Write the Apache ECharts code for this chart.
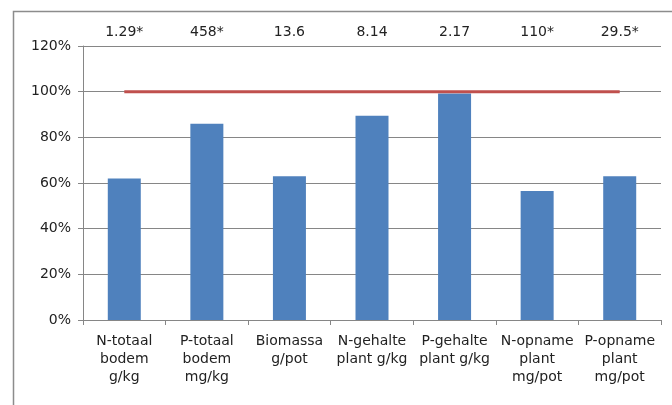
<!DOCTYPE html>
<html><head><meta charset="utf-8">
<script src="https://cdn.jsdelivr.net/npm/echarts@6/dist/echarts.min.js"></script>
<style>html,body{margin:0;padding:0;background:#fff}#c{width:672px;height:405px}</style>
</head><body><div id="c"></div>
<script>
var categories = ["N-totaal\nbodem\ng/kg","P-totaal\nbodem\nmg/kg","Biomassa\ng/pot","N-gehalte\nplant g/kg","P-gehalte\nplant g/kg","N-opname\nplant\nmg/pot","P-opname\nplant\nmg/pot"];
var topLabels = ["1.29*","458*","13.6","8.14","2.17","110*","29.5*"];
var barValues = [62, 86, 63, 89.5, 99.2, 56.5, 63];
var refValues = [100, 100, 100, 100, 100, 100, 100];
var yTicks = [0, 20, 40, 60, 80, 100, 120];

var chart = echarts.init(document.getElementById('c'));
var font = 'DejaVu Sans, Verdana, sans-serif';
chart.setOption({
  animation: false,
  graphic: [{type:'rect', shape:{x:13.5, y:11.5, width:700, height:500}, style:{fill:'none', stroke:'#8c8c8c', lineWidth:1.5}, silent:true}],
  grid: {left:83, right:11, top:46, bottom:85},
  xAxis: [{
    type:'category', data:categories, position:'bottom',
    axisLine:{lineStyle:{color:'#868686'}},
    axisTick:{show:true, length:5, lineStyle:{color:'#868686'}},
    axisLabel:{interval:0, color:'#222', fontFamily:font, fontSize:14, lineHeight:18, margin:12}
  },{
    type:'category', data:topLabels, position:'top',
    axisLine:{show:false}, axisTick:{show:false},
    axisLabel:{interval:0, color:'#222', fontFamily:font, fontSize:14, margin:7}
  }],
  yAxis: {
    type:'value', min:0, max:120, interval:20,
    axisLine:{show:true, lineStyle:{color:'#868686'}},
    axisTick:{show:true, length:5, lineStyle:{color:'#868686'}},
    splitLine:{lineStyle:{color:'#868686'}},
    axisLabel:{formatter:function(v){return yTicks.indexOf(v)>=0 ? v+'%' : '';}, color:'#222', fontFamily:font, fontSize:14, margin:12}
  },
  series: [{
    type:'bar', data:barValues, barWidth:33, itemStyle:{color:'#4F81BD'}, silent:true
  },{
    type:'line', data:refValues, symbol:'none', lineStyle:{color:'#C0504D', width:3}, silent:true, z:5
  }]
});
</script></body></html>
